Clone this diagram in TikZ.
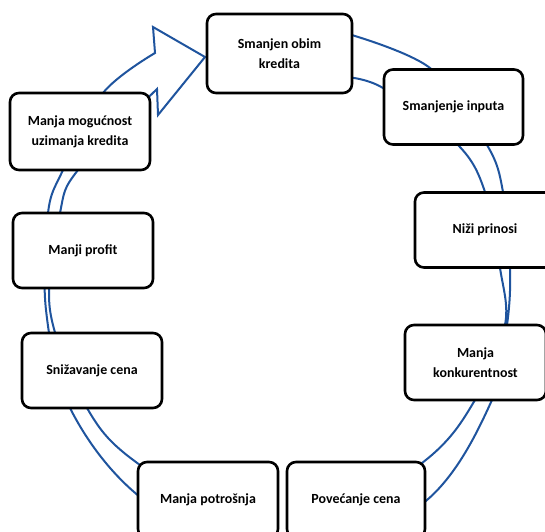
\documentclass[tikz,border=0pt]{standalone}
\usepackage{fontspec}
\setmainfont{Carlito}
\definecolor{bandblue}{RGB}{31,84,158}
\tikzset{
  cyclebox/.style={draw=black, line width=2.6bp, rounded corners=9bp, fill=white,
    align=center, inner sep=0pt, font=\bfseries\fontsize{14}{20}\selectfont},
  band/.style={draw=bandblue, line width=2bp, line join=miter, fill=white}
}
\begin{document}
\begin{tikzpicture}[x=1bp,y=-1bp]
\useasboundingbox (0,0) rectangle (545,532);
\begin{scope}
\clip (0,0) rectangle (545,532);
% circular arrow band
\draw[band]
  plot[smooth, tension=0.55] coordinates {(345,33) (430,68) (487,145) (503,192) (510,268) (507,325) (492,400) (427,500) (282,580) (140,497) (70,408) (46,310) (48,213) (63,170) (103,93) (155,53)}
  -- (153,27) -- (205,57) -- (158,115) -- (157,89)
  -- plot[smooth, tension=0.55] coordinates {(157,89) (78,170) (60,213) (50,310) (87,408) (140,465) (282,548) (422,463) (475,400) (505,325) (500,268) (485,192) (458,145) (383,88) (345,77)}
  -- cycle;
% boxes
\node[cyclebox, minimum width=145bp, minimum height=79bp] (b1) at (279.5,53.5) {Smanjen obim\\kredita};
\node[cyclebox, minimum width=139bp, minimum height=75bp] (b2) at (453.5,107) {Smanjenje inputa};
\node[cyclebox, minimum width=140bp, minimum height=75bp] (b3) at (485,230) {Niži prinosi};
\node[cyclebox, minimum width=141bp, minimum height=75bp] (b4) at (475.5,362.5) {Manja\\konkurentnost};
\node[cyclebox, minimum width=138bp, minimum height=76bp] (b5) at (356,500) {Povećanje cena};
\node[cyclebox, minimum width=140bp, minimum height=76bp] (b6) at (208,500) {Manja potrošnja};
\node[cyclebox, minimum width=140bp, minimum height=75bp] (b7) at (92,370.5) {Snižavanje cena};
\node[cyclebox, minimum width=140bp, minimum height=75bp] (b8) at (83,250.5) {Manji profit};
\node[cyclebox, minimum width=140bp, minimum height=77bp] (b9) at (80,131.5) {Manja mogućnost\\uzimanja kredita};
\end{scope}
\end{tikzpicture}
\end{document}
